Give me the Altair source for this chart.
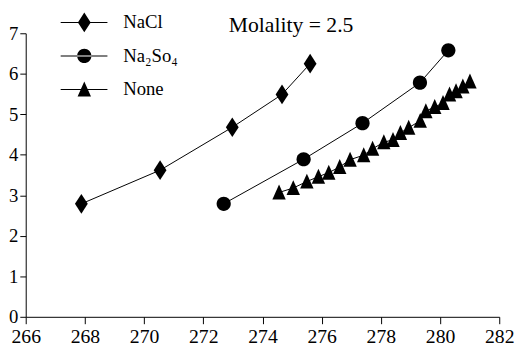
import altair as alt
import pandas as pd

series_names = ["NaCl", "Na₂So₄", "None"]

nacl_x = [267.88, 270.54, 272.98, 274.66, 275.61]
nacl_y = [2.79, 3.62, 4.68, 5.49, 6.25]

na2so4_x = [272.69, 275.39, 277.38, 279.32, 280.28]
na2so4_y = [2.79, 3.89, 4.78, 5.78, 6.58]

none_x = [274.56, 275.04, 275.50, 275.89, 276.24, 276.61, 276.96, 277.42, 277.72,
          278.10, 278.41, 278.66, 278.94, 279.33, 279.52, 279.82, 280.10, 280.32,
          280.54, 280.77, 281.01]
none_y = [3.07, 3.18, 3.34, 3.46, 3.56, 3.70, 3.88, 3.99, 4.15, 4.31, 4.37, 4.54,
          4.67, 4.84, 5.08, 5.18, 5.28, 5.49, 5.57, 5.69, 5.81]

x_ticks = [266, 268, 270, 272, 274, 276, 278, 280, 282]
y_ticks = [0, 1, 2, 3, 4, 5, 6, 7]

note_text = ["Molality = 2.5"]
note_x = [272.86]
note_y = [7.02]

rows = []
for name, xs, ys in [(series_names[0], nacl_x, nacl_y),
                     (series_names[1], na2so4_x, na2so4_y),
                     (series_names[2], none_x, none_y)]:
    for xv, yv in zip(xs, ys):
        rows.append({"series": name, "temp": xv, "val": yv})
df = pd.DataFrame(rows)
note_df = pd.DataFrame({"text": note_text, "x": note_x, "y": note_y})

DIAMOND = "M0,-1L0.65,0L0,1L-0.65,0Z"
CIRCLE = "M-0.72,0A0.72,0.72 0 1,0 0.72,0A0.72,0.72 0 1,0 -0.72,0Z"
TRIANGLE = "M0,-0.8L0.68,0.72L-0.68,0.72Z"
LINE = "M-2.4,-0.05L2.35,-0.05L2.35,0.05L-2.4,0.05Z "

FONT = "Liberation Serif"

xscale = alt.Scale(domain=[266, 282], nice=False, zero=False)
yscale = alt.Scale(domain=[0, 7], nice=False, zero=True)

axis_style = dict(grid=False, domainColor="black", tickColor="black", labelColor="black",
                  labelFont=FONT, labelFontStyle="normal", labelFontWeight="normal",
                  format="d", labelFlush=False, labelOverlap=False)

xenc = alt.X("temp:Q", scale=xscale, title=None,
             axis=alt.Axis(values=x_ticks, tickSize=7, labelPadding=3, labelFontSize=20,
                           **axis_style))
yenc = alt.Y("val:Q", scale=yscale, title=None,
             axis=alt.Axis(values=y_ticks, tickSize=6, labelPadding=2, labelFontSize=19,
                           **axis_style))

base = alt.Chart(df)

lines = base.mark_line(color="black", strokeWidth=1).encode(
    x=xenc, y=yenc, detail="series:N", order="temp:Q")

points = base.mark_point(filled=True, color="black", opacity=1, size=400, strokeWidth=0).encode(
    x=xenc, y=yenc,
    shape=alt.Shape("series:N",
                    scale=alt.Scale(domain=series_names, range=[DIAMOND, CIRCLE, TRIANGLE]),
                    legend=None))

legend_layer = base.mark_point(filled=True, color="black", opacity=1, size=400).encode(
    x=xenc, y=yenc,
    shape=alt.Shape("series:N",
                    scale=alt.Scale(domain=series_names,
                                    range=[LINE + DIAMOND, LINE + CIRCLE, LINE + TRIANGLE]),
                    legend=alt.Legend(title=None, orient="none", legendX=49.5, legendY=-21,
                                      labelFont=FONT, labelFontSize=19, labelColor="black",
                                      labelOffset=29.5, rowPadding=14, symbolStrokeWidth=0,
                                      padding=0, offset=0, symbolSize=400,
                                      symbolOpacity=1))
).transform_filter("false")

note = alt.Chart(note_df).mark_text(font=FONT, fontStyle="normal", fontWeight="normal",
                                    fontSize=22, color="black", align="left",
                                    baseline="alphabetic").encode(
    x=alt.X("x:Q", scale=xscale), y=alt.Y("y:Q", scale=yscale), text="text:N")

chart = alt.layer(lines, points, legend_layer, note).resolve_scale(
    shape="independent"
).properties(
    width=481, height=288,
    autosize=alt.AutoSizeParams(type="none"),
    padding={"left": 18, "top": 23, "right": 16, "bottom": 29},
    background="white",
).configure(
    font=FONT
).configure_view(stroke=None)

chart.save("out.html", embed_options={"renderer": "svg", "actions": False})
